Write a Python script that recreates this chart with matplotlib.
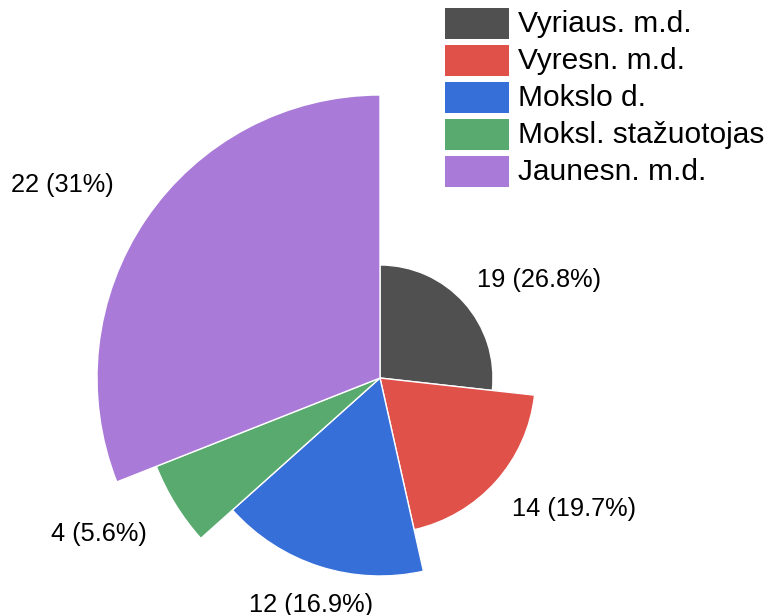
import numpy as np
import matplotlib.pyplot as plt
from matplotlib.patches import Wedge, Rectangle

plt.rcParams['font.family'] = ['Liberation Sans', 'DejaVu Sans']

categories = ['Vyriaus. m.d.', 'Vyresn. m.d.', 'Mokslo d.', 'Moksl. stažuotojas', 'Jaunesn. m.d.']
values = [19, 14, 12, 4, 22]
colors = ['#505050', '#e0514a', '#376fd9', '#59aa6f', '#a97ad8']

W, H = 769, 615
fig = plt.figure(figsize=(W / 100, H / 100), dpi=100)
ax = fig.add_axes([0, 0, 1, 1])
ax.set_xlim(0, W)
ax.set_ylim(0, H)
ax.set_aspect('equal')
ax.axis('off')

cx, cy = 380, H - 378
r0, step = 113, 42.5
total = sum(values)

start = 90.0
for i, (v, c) in enumerate(zip(values, colors)):
    sweep = v / total * 360
    end = start - sweep
    r = r0 + i * step
    ax.add_patch(Wedge((cx, cy), r, end, start, facecolor=c, edgecolor='white', lw=1))
    mid = np.radians((start + end) / 2)
    lr = r * 1.13 + 2
    lx, ly = cx + lr * np.cos(mid), cy + lr * np.sin(mid)
    cs = np.cos(mid)
    ha = 'left' if cs > 0.35 else ('right' if cs < -0.35 else 'center')
    va = 'bottom' if np.sin(mid) > 0 else 'top'
    pct = f"{v / total * 100:.1f}".rstrip('0').rstrip('.')
    ax.text(lx, ly, f"{v} ({pct}%)", ha=ha, va=va, fontsize=18.3)
    start = end

# legend
for i, (cat, c) in enumerate(zip(categories, colors)):
    y = H - 8 - i * 37
    ax.add_patch(Rectangle((445, y - 31), 64, 31, facecolor=c, edgecolor='none'))
    ax.text(518, y - 16, cat, ha='left', va='center', fontsize=21.5)

fig.savefig('out.png', dpi=100)
